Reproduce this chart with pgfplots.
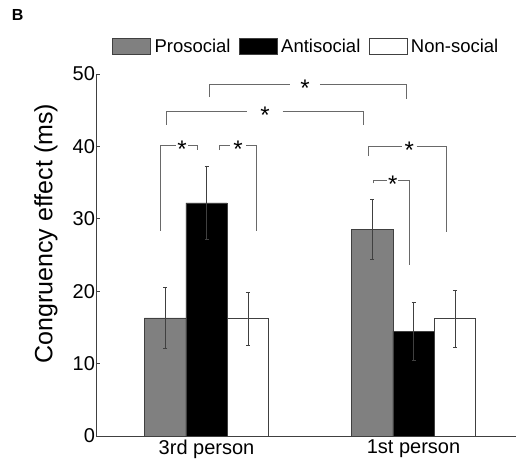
\documentclass[border=0pt]{standalone}
\usepackage{fontspec}
\setmainfont{Liberation Sans}
\usepackage{pgfplots}
\pgfplotsset{compat=1.18}
\definecolor{barGrey}{RGB}{128,128,128}
\definecolor{edge}{RGB}{64,64,64}
\definecolor{brk}{RGB}{105,105,105}
\begin{document}
\begin{tikzpicture}[x=1pt,y=1pt]
\useasboundingbox (0,0) rectangle (516,-465);
\node[font=\fontsize{16}{18}\selectfont\bfseries] at (17.7,-15) {B};
\begin{axis}[
  at={(96pt,-436pt)}, anchor=south west,
  scale only axis, width=420pt, height=362pt,
  xmin=0.466, xmax=2.495, ymin=0, ymax=50,
  axis x line*=bottom, axis y line*=left,
  axis line style={-, draw=edge, line width=0.8pt},
  ytick={0,10,20,30,40,50},
  xtick={1,2}, xticklabels={3rd person, 1st person},
  xtick style={draw=none},
  ytick style={draw=edge, line width=0.8pt},
  tick align=inside, major tick length=4pt,
  /pgf/number format/assume math mode=true,
  tick label style={font=\fontsize{20}{24}\selectfont},
  yticklabel style={xshift=2.5pt},
  ylabel={Congruency effect (ms)},
  every axis y label/.style={at={(rel axis cs:-0.119,0.559)}, rotate=90, anchor=center, font=\fontsize{25}{30}\selectfont},
  legend columns=3,
  legend style={draw=none, fill=none, at={(rel axis cs:0.0386,1.077)}, anchor=west,
    font=\fontsize{18.5}{21}\selectfont, inner sep=0pt,
    nodes={inner sep=3.5pt},
    /tikz/every even column/.append style={column sep=5pt}},
  clip=false,
]
\addplot[ybar, bar width=0.2, bar shift=0pt, fill=barGrey, draw=edge, line width=0.6pt,
  legend image code/.code={\draw[fill=barGrey,draw=edge,line width=0.6pt] (0pt,-8pt) rectangle (38pt,8pt);},
  error bars/.cd, y dir=both, y explicit,
  error bar style={draw=edge, line width=0.8pt},
  error mark options={rotate=90, mark size=2pt, draw=edge, line width=0.8pt}]
  coordinates {(0.8,16.3) +- (0,4.2) (1.8,28.5) +- (0,4.15)};
\addlegendentry{Prosocial}
\addplot[ybar, bar width=0.2, bar shift=0pt, fill=black, draw=edge, line width=0.6pt,
  legend image code/.code={\draw[fill=black,draw=edge,line width=0.6pt] (0pt,-8pt) rectangle (38pt,8pt);},
  error bars/.cd, y dir=both, y explicit,
  error bar style={draw=edge, line width=0.8pt},
  error mark options={rotate=90, mark size=2pt, draw=edge, line width=0.8pt}]
  coordinates {(1,32.2) +- (0,5.1) (2,14.5) +- (0,4.0)};
\addlegendentry{Antisocial}
\addplot[ybar, bar width=0.2, bar shift=0pt, fill=white, draw=edge, line width=0.6pt,
  legend image code/.code={\draw[fill=white,draw=edge,line width=0.6pt] (0pt,-8pt) rectangle (38pt,8pt);},
  error bars/.cd, y dir=both, y explicit,
  error bar style={draw=edge, line width=0.8pt},
  error mark options={rotate=90, mark size=2pt, draw=edge, line width=0.8pt}]
  coordinates {(1.2,16.2) +- (0,3.7) (2.2,16.2) +- (0,3.9)};
\addlegendentry{Non-social}
% significance brackets
\begin{scope}[brk, line width=0.7pt]
\draw (1.012,46.8) -- (1.012,48.6) -- (1.403,48.6);
\draw (1.548,48.6) -- (1.967,48.6) -- (1.967,46.5);
\draw (0.808,42.96) -- (0.808,44.79) -- (1.194,44.79);
\draw (1.368,44.79) -- (1.757,44.79) -- (1.757,42.96);
\draw (0.775,28.36) -- (0.775,40.19) -- (0.853,40.19);
\draw (0.911,40.19) -- (0.957,40.19) -- (0.957,39.5);
\draw (1.062,39.5) -- (1.062,40.19) -- (1.114,40.19);
\draw (1.191,40.19) -- (1.243,40.19) -- (1.243,28.36);
\draw (1.782,38.67) -- (1.782,40.06) -- (1.943,40.06);
\draw (2.015,40.06) -- (2.157,40.06) -- (2.157,28.2);
\draw (1.806,34.9) -- (1.806,35.36) -- (1.871,35.36);
\draw (1.927,35.36) -- (1.980,35.36) -- (1.980,23.6);
\end{scope}
\begin{scope}[every node/.style={inner sep=0pt, anchor=center, yshift=-4pt, font=\fontsize{24}{28}\selectfont}]
\node at (1.476,48.6) {*};
\node at (1.283,44.79) {*};
\node at (0.882,40.19) {*};
\node at (1.152,40.19) {*};
\node at (1.980,40.06) {*};
\node at (1.900,35.36) {*};
\end{scope}
\end{axis}
\end{tikzpicture}
\end{document}
